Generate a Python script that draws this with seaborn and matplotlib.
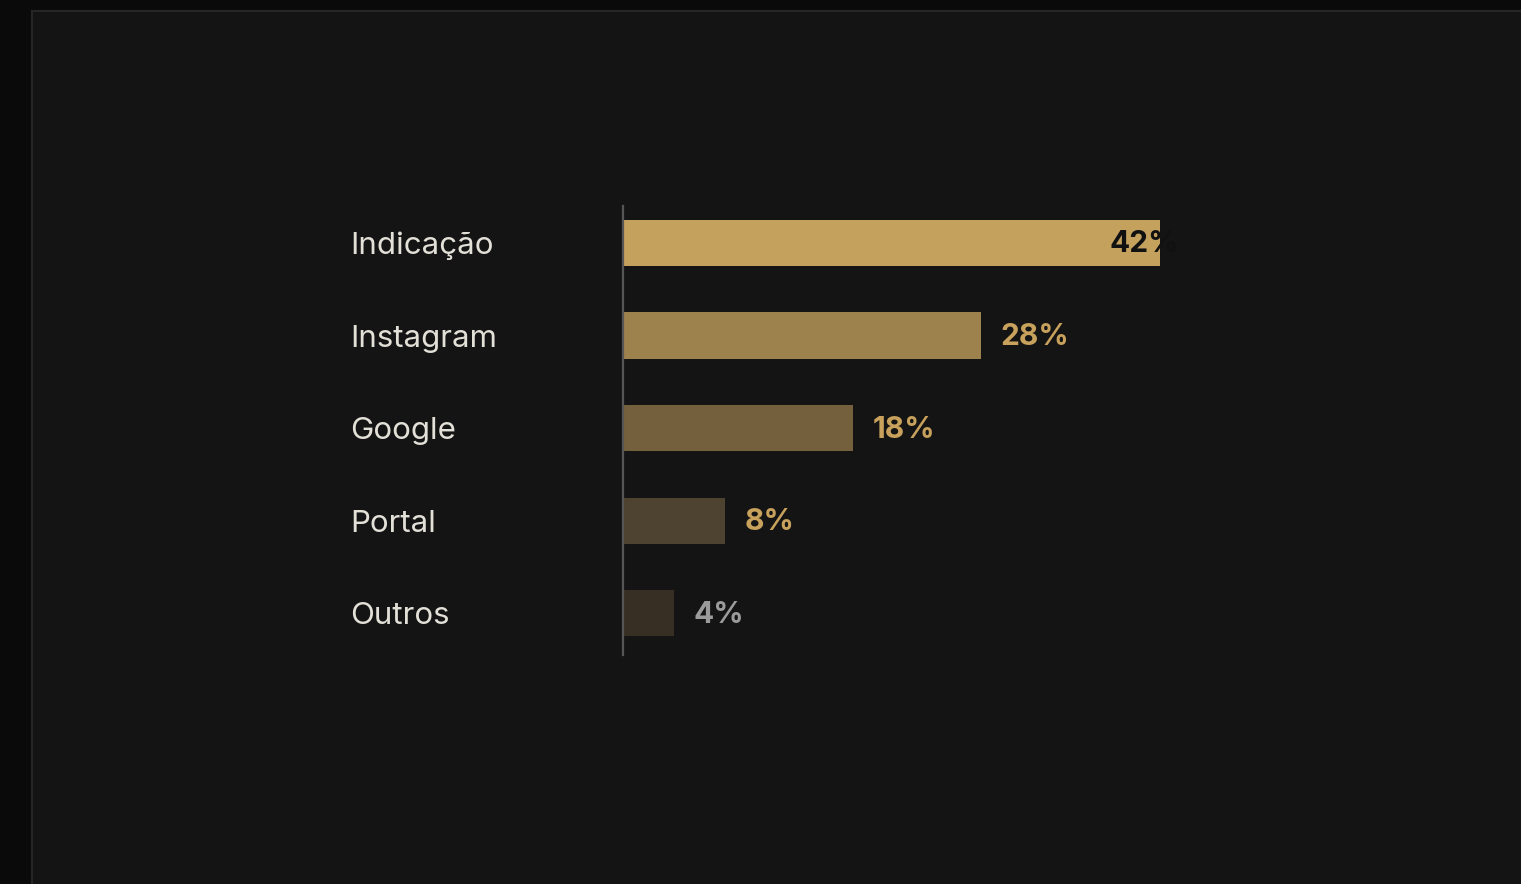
import matplotlib
matplotlib.use("Agg")
import matplotlib.pyplot as plt
import seaborn as sns
import pandas as pd
from matplotlib.patches import Rectangle

categories = ["Indicação", "Instagram", "Google", "Portal", "Outros"]
values = [42, 28, 18, 8, 4]
labels = ["42%", "28%", "18%", "8%", "4%"]
bar_colors = ["#c5a15e", "#9d824e", "#74603d", "#4e4330", "#372e24"]
label_colors = ["#111111", "#c8a25c", "#c8a25c", "#c8a25c", "#9b9b9b"]

sns.set_theme(style="dark")
plt.rcParams["font.family"] = ["Inter", "DejaVu Sans"]

W, H = 1521, 884
fig = plt.figure(figsize=(W / 100, H / 100), dpi=100, facecolor="#0a0a0a")
# panel
fig.patches.append(Rectangle((32 / W, -0.01), (W - 32) / W + 0.01, (H - 11) / H + 0.01,
                             transform=fig.transFigure, facecolor="#141414",
                             edgecolor="#262626", linewidth=1.5, zorder=-10))

ax = fig.add_axes([623 / W, (H - 655) / H, 894.6 / W, 449 / H])
ax.set_zorder(5)
ax.set_facecolor("none")

df = pd.DataFrame({"cat": categories, "val": values})
sns.barplot(data=df, x="val", y="cat", hue="cat", palette=bar_colors,
            orient="h", width=0.5, legend=False, ax=ax, saturation=1,
            linewidth=0, edgecolor="none")

ax.set_xlim(0, 70)
ax.set_ylim(4.45, -0.4)
ax.set_xlabel("")
ax.set_ylabel("")
ax.set_xticks([])
ax.grid(False)
for s in ["top", "right", "bottom"]:
    ax.spines[s].set_visible(False)
ax.spines["left"].set_color("#555555")
ax.spines["left"].set_linewidth(1.6)

ax.tick_params(axis="y", length=0, pad=196.5, labelsize=22.5, labelcolor="#e3e0d8")
for t in ax.get_yticklabels():
    t.set_ha("left")

for i, (v, lab, c) in enumerate(zip(values, labels, label_colors)):
    off = -36 if i == 0 else 14
    ax.annotate(lab, xy=(v, i), xytext=(off, -1), textcoords="offset points",
                ha="left", va="center", fontsize=21.5, fontweight="bold", color=c)

fig.savefig("out.png", dpi=100, facecolor=fig.get_facecolor())
